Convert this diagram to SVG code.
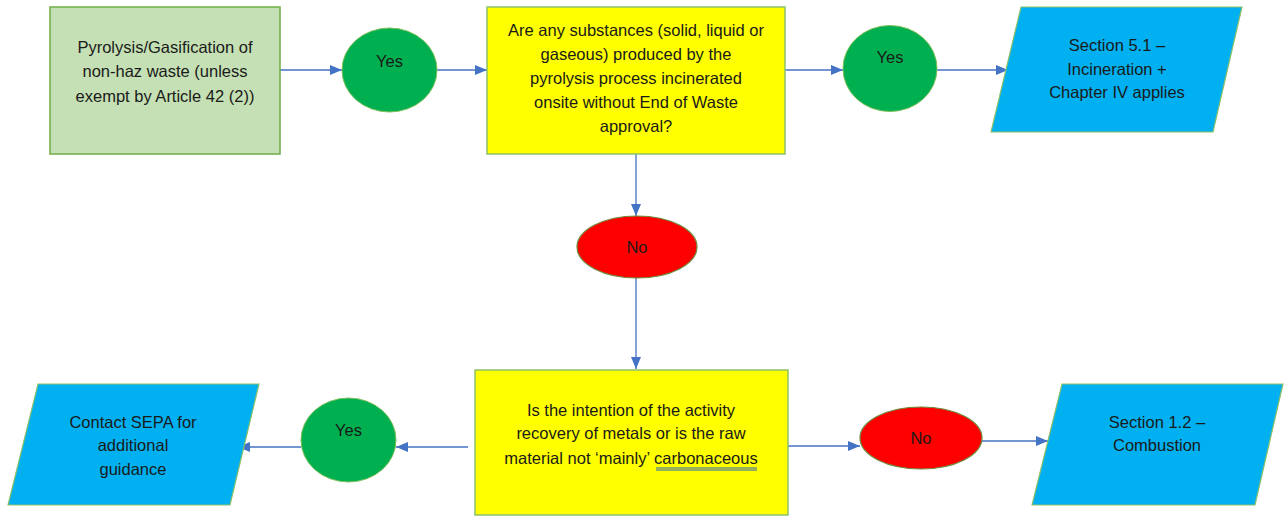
<svg xmlns="http://www.w3.org/2000/svg" width="1285" height="516" viewBox="0 0 1285 516">
<defs>
<marker id="ah" viewBox="0 0 12 10" refX="12" refY="5" markerWidth="12" markerHeight="10" markerUnits="userSpaceOnUse" orient="auto">
<path d="M0,0 L12,5 L0,10 z" fill="#4472C4"/>
</marker>
<style>
text{font-family:"Liberation Sans",Arial,sans-serif;font-size:16.5px;fill:#1a1a1a;text-anchor:middle}
.start{fill:#C5E0B4;stroke:#70AD47;stroke-width:1.5}
.q{fill:#FFFF00;stroke:#8DC16A;stroke-width:1.5}
.yes{fill:#00B050;stroke:#7DBF5A;stroke-width:1}
.no{fill:#FF0000;stroke:#6E8B3D;stroke-width:1.2}
.out{fill:#00B0F0;stroke:#8DC16A;stroke-width:1.2}
.c{stroke:#4472C4;stroke-width:1.3;fill:none;marker-end:url(#ah)}
</style>
</defs>
<rect width="1285" height="516" fill="#ffffff"/>
<g id="connectors">
<line class="c" x1="280" y1="70" x2="342" y2="70"/>
<line class="c" x1="437" y1="70" x2="487" y2="70"/>
<line class="c" x1="785" y1="70" x2="843" y2="70"/>
<line class="c" x1="937" y1="70" x2="1008" y2="70"/>
<line class="c" x1="636" y1="154" x2="636" y2="216"/>
<line class="c" x1="636" y1="278" x2="636" y2="369"/>
<line class="c" x1="468" y1="447" x2="396" y2="447"/>
<line class="c" x1="301" y1="447" x2="238" y2="447"/>
<line class="c" x1="788" y1="446" x2="860" y2="446"/>
<line class="c" x1="975" y1="441" x2="1048" y2="441"/>
</g>
<g id="start">
<rect class="start" x="50" y="7" width="230" height="147"/>
<text x="165" y="53">Pyrolysis/Gasification of</text>
<text x="165" y="77">non-haz waste (unless</text>
<text x="165" y="102">exempt by Article 42 (2))</text>
</g>
<g id="yes1">
<ellipse class="yes" cx="389.5" cy="70" rx="47.5" ry="42"/>
<text x="389.5" y="67">Yes</text>
</g>
<g id="q1">
<rect class="q" x="487" y="7" width="298" height="147"/>
<text x="636" y="36">Are any substances (solid, liquid or</text>
<text x="636" y="60">gaseous) produced by the</text>
<text x="636" y="84">pyrolysis process incinerated</text>
<text x="636" y="108">onsite without End of Waste</text>
<text x="636" y="132">approval?</text>
</g>
<g id="yes2">
<ellipse class="yes" cx="890" cy="68.5" rx="47" ry="43"/>
<text x="890" y="63">Yes</text>
</g>
<g id="out1">
<polygon class="out" points="1021,7 1242,7 1213,132 991,132"/>
<text x="1117" y="51">Section 5.1 –</text>
<text x="1117" y="75">Incineration +</text>
<text x="1117" y="98">Chapter IV applies</text>
</g>
<g id="no1">
<ellipse class="no" cx="637" cy="247" rx="60" ry="31"/>
<text x="637" y="253">No</text>
</g>
<g id="q2">
<rect class="q" x="475" y="370" width="313" height="145"/>
<text x="631" y="416">Is the intention of the activity</text>
<text x="631" y="439">recovery of metals or is the raw</text>
<text x="631" y="464">material not ‘mainly’ carbonaceous</text>
<path d="M656,468 H757 M656,470 H757" stroke="#2F5FB3" stroke-width="1" fill="none"/>
</g>
<g id="yes3">
<ellipse class="yes" cx="348.5" cy="440" rx="47.5" ry="42"/>
<text x="348.5" y="436">Yes</text>
</g>
<g id="out2">
<polygon class="out" points="38,384 259,384 230,505 8,505"/>
<text x="133" y="428">Contact SEPA for</text>
<text x="133" y="451">additional</text>
<text x="133" y="475">guidance</text>
</g>
<g id="no2">
<ellipse class="no" cx="921" cy="438" rx="61" ry="31"/>
<text x="921" y="444">No</text>
</g>
<g id="out3">
<polygon class="out" points="1062,384 1283,384 1255,505 1032,505"/>
<text x="1157" y="428">Section 1.2 –</text>
<text x="1157" y="451">Combustion</text>
</g>
</svg>
